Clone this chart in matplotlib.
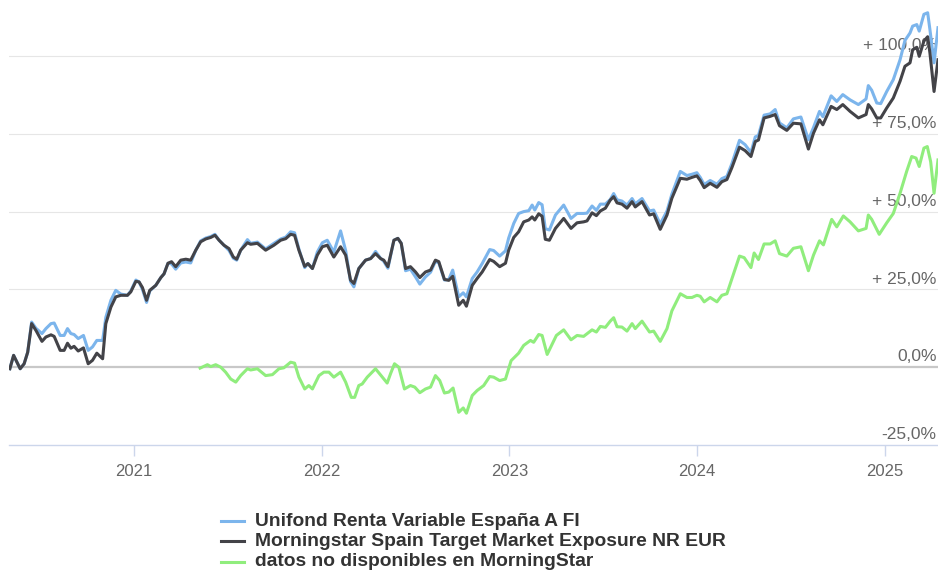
import matplotlib
matplotlib.use("Agg")
import matplotlib.pyplot as plt
from matplotlib.lines import Line2D

plt.rcParams['font.family'] = ['Liberation Sans', 'DejaVu Sans']

# fecha en años decimales, rentabilidad acumulada en %
fechas = [
    2020.340, 2020.360, 2020.395, 2020.416, 2020.435, 2020.456, 2020.479, 2020.511, 2020.532, 2020.559,
    2020.576, 2020.608, 2020.629, 2020.647, 2020.665, 2020.682, 2020.704, 2020.732, 2020.757, 2020.780,
    2020.803, 2020.834, 2020.851, 2020.878, 2020.904, 2020.931, 2020.966, 2020.984, 2021.011, 2021.028,
    2021.046, 2021.068, 2021.085, 2021.117, 2021.144, 2021.161, 2021.182, 2021.201, 2021.223, 2021.250,
    2021.277, 2021.303, 2021.330, 2021.356, 2021.383, 2021.410, 2021.432, 2021.454, 2021.480, 2021.507,
    2021.530, 2021.548, 2021.569, 2021.605, 2021.622, 2021.658, 2021.702, 2021.746, 2021.782, 2021.809,
    2021.835, 2021.856, 2021.879, 2021.910, 2021.927, 2021.951, 2021.977, 2022.004, 2022.030, 2022.065,
    2022.101, 2022.128, 2022.154, 2022.172, 2022.198, 2022.234, 2022.261, 2022.287, 2022.314, 2022.331,
    2022.353, 2022.385, 2022.406, 2022.424, 2022.447, 2022.473, 2022.500, 2022.523, 2022.553, 2022.580,
    2022.606, 2022.624, 2022.654, 2022.677, 2022.698, 2022.730, 2022.754, 2022.771, 2022.802, 2022.828,
    2022.855, 2022.895, 2022.916, 2022.948, 2022.979, 2022.996, 2023.023, 2023.049, 2023.076, 2023.103,
    2023.121, 2023.135, 2023.156, 2023.174, 2023.191, 2023.213, 2023.245, 2023.289, 2023.328, 2023.360,
    2023.395, 2023.413, 2023.440, 2023.463, 2023.484, 2023.511, 2023.537, 2023.555, 2023.573, 2023.599,
    2023.626, 2023.653, 2023.670, 2023.706, 2023.746, 2023.768, 2023.803, 2023.839, 2023.865, 2023.910,
    2023.945, 2023.972, 2023.998, 2024.016, 2024.037, 2024.069, 2024.105, 2024.131, 2024.158, 2024.185,
    2024.225, 2024.255, 2024.286, 2024.309, 2024.326, 2024.356, 2024.388, 2024.415, 2024.438, 2024.477,
    2024.512, 2024.552, 2024.592, 2024.619, 2024.651, 2024.669, 2024.713, 2024.743, 2024.775, 2024.814,
    2024.858, 2024.899, 2024.911, 2024.929, 2024.956, 2024.977, 2025.009, 2025.044, 2025.080, 2025.106,
    2025.133, 2025.147, 2025.169, 2025.182, 2025.207, 2025.227, 2025.239, 2025.261, 2025.282,
]

fondo = [
    -0.5, 3.8, -0.5, 1.1, 4.8, 14.5, 12.5, 10.8, 12.4, 14.0,
    14.2, 10.2, 10.2, 12.4, 10.8, 10.5, 9.2, 10.2, 5.4, 6.5,
    8.6, 8.6, 16.0, 21.5, 24.7, 23.5, 23.1, 24.5, 28.0, 27.4,
    25.0, 20.8, 24.5, 26.3, 28.8, 30.0, 33.4, 33.2, 31.5, 33.5,
    33.8, 33.5, 37.6, 40.6, 41.5, 42.0, 42.7, 40.8, 39.2, 37.5,
    35.0, 34.4, 37.6, 41.0, 39.8, 40.2, 38.0, 39.8, 41.2, 41.8,
    43.5, 43.2, 38.0, 32.0, 33.3, 31.7, 37.0, 40.0, 40.8, 37.0,
    43.8, 37.5, 27.5, 25.8, 31.7, 34.4, 34.9, 37.2, 35.0, 34.0,
    31.8, 40.8, 41.4, 39.8, 31.0, 31.5, 29.0, 26.7, 29.0, 30.5,
    34.0, 33.5, 28.0, 28.2, 31.2, 22.6, 23.9, 22.6, 28.5, 30.6,
    33.3, 37.8, 37.5, 35.7, 37.4, 41.5, 46.2, 49.4, 50.0, 50.3,
    52.1, 50.5, 52.9, 52.2, 44.5, 44.1, 48.9, 52.1, 47.8, 49.4,
    49.4, 49.5, 51.8, 50.4, 52.4, 52.4, 53.9, 55.8, 53.8, 53.4,
    52.1, 54.2, 52.5, 54.2, 50.2, 50.5, 46.0, 50.2, 55.6, 62.9,
    61.6, 62.0, 62.5, 61.0, 58.7, 60.0, 58.8, 60.6, 61.3, 65.5,
    72.9, 71.5, 69.0, 74.0, 74.5, 81.0, 81.4, 82.8, 78.5, 76.9,
    79.8, 80.4, 73.1, 77.0, 82.2, 80.5, 87.2, 85.4, 87.6, 85.9,
    84.4, 86.2, 90.5, 89.0, 84.9, 84.7, 88.6, 92.4, 98.8, 105.0,
    107.4, 109.6, 110.1, 108.0, 113.4, 113.9, 108.5, 97.8, 109.1,
]

indice = [
    -0.5, 3.8, -0.5, 1.1, 4.8, 14.0, 11.8, 8.3, 9.7, 10.4,
    9.9, 5.4, 5.4, 7.7, 6.1, 6.7, 5.2, 6.2, 1.1, 2.2,
    4.5, 2.7, 14.0, 19.3, 22.6, 23.1, 23.1, 24.2, 27.6, 27.4,
    25.6, 21.5, 24.7, 26.3, 28.8, 30.0, 33.4, 33.9, 32.3, 34.4,
    34.7, 34.4, 37.6, 40.3, 41.2, 41.7, 42.4, 40.8, 39.2, 38.1,
    35.4, 34.7, 37.6, 40.0, 39.5, 39.8, 37.6, 39.2, 40.8, 41.3,
    42.7, 42.4, 37.6, 32.4, 33.3, 31.7, 36.0, 38.7, 39.2, 35.4,
    38.7, 36.0, 28.0, 26.9, 31.7, 34.4, 34.9, 36.5, 34.9, 34.4,
    32.3, 40.8, 41.4, 39.8, 31.7, 32.3, 30.6, 28.8, 30.6, 31.2,
    34.4, 33.9, 28.2, 27.9, 29.2, 19.9, 21.5, 19.6, 26.3, 28.5,
    30.6, 34.6, 34.0, 32.3, 33.4, 37.6, 41.7, 43.5, 46.7, 47.3,
    48.3, 47.3, 49.3, 48.5, 41.1, 40.8, 44.6, 47.8, 44.6, 46.4,
    46.7, 47.0, 49.6, 48.7, 50.2, 51.1, 53.7, 54.8, 52.8, 52.4,
    51.1, 53.2, 51.5, 53.2, 48.9, 49.3, 44.3, 48.9, 54.3, 60.7,
    60.4, 61.0, 61.5, 60.0, 57.7, 59.1, 57.8, 59.6, 60.3, 64.2,
    70.7, 69.6, 67.7, 72.5, 73.0, 80.1, 80.6, 81.2, 77.6, 76.1,
    78.4, 78.2, 70.1, 75.2, 79.5, 77.9, 83.8, 82.8, 84.4, 82.2,
    80.1, 81.2, 84.4, 83.0, 80.1, 80.1, 83.3, 86.5, 91.9, 96.7,
    97.8, 102.0, 102.8, 99.9, 104.8, 106.2, 101.0, 88.6, 98.8,
]

fechas_ms = [
    2021.353, 2021.374, 2021.392, 2021.410, 2021.436, 2021.463, 2021.489, 2021.516, 2021.543, 2021.569,
    2021.605, 2021.622, 2021.658, 2021.702, 2021.738, 2021.773, 2021.799, 2021.835, 2021.856, 2021.879,
    2021.910, 2021.932, 2021.951, 2021.986, 2022.012, 2022.039, 2022.065, 2022.101, 2022.128, 2022.158,
    2022.176, 2022.198, 2022.216, 2022.243, 2022.287, 2022.323, 2022.349, 2022.367, 2022.388, 2022.411,
    2022.441, 2022.473, 2022.496, 2022.523, 2022.553, 2022.580, 2022.606, 2022.629, 2022.654, 2022.677,
    2022.700, 2022.730, 2022.754, 2022.771, 2022.802, 2022.828, 2022.863, 2022.895, 2022.916, 2022.948,
    2022.979, 2023.009, 2023.049, 2023.076, 2023.112, 2023.129, 2023.156, 2023.174, 2023.201, 2023.250,
    2023.289, 2023.328, 2023.360, 2023.395, 2023.440, 2023.463, 2023.484, 2023.511, 2023.537, 2023.555,
    2023.573, 2023.599, 2023.626, 2023.653, 2023.670, 2023.706, 2023.746, 2023.768, 2023.803, 2023.839,
    2023.865, 2023.910, 2023.945, 2023.972, 2023.998, 2024.016, 2024.037, 2024.069, 2024.105, 2024.131,
    2024.158, 2024.194, 2024.225, 2024.250, 2024.286, 2024.303, 2024.326, 2024.356, 2024.388, 2024.415,
    2024.438, 2024.477, 2024.512, 2024.552, 2024.592, 2024.619, 2024.651, 2024.672, 2024.716, 2024.743,
    2024.778, 2024.814, 2024.858, 2024.899, 2024.911, 2024.929, 2024.969, 2025.009, 2025.044, 2025.080,
    2025.115, 2025.142, 2025.165, 2025.182, 2025.207, 2025.225, 2025.243, 2025.261, 2025.282,
]

sin_datos = [
    -0.3, 0.3, 0.8, 0.2, 0.8, 0.0, -1.6, -3.8, -4.8, -2.7,
    -0.5, -0.9, -0.5, -2.7, -2.4, -0.5, -0.2, 1.6, 1.3, -3.2,
    -7.0, -5.9, -7.0, -2.7, -1.6, -1.6, -3.2, -1.6, -4.8, -9.7,
    -9.7, -5.9, -5.4, -3.2, -0.5, -3.2, -5.1, -2.1, 1.1, 0.0,
    -7.0, -5.9, -6.4, -8.2, -7.0, -6.4, -2.7, -4.3, -8.3, -8.0,
    -6.7, -14.5, -13.1, -14.8, -9.1, -7.5, -5.9, -3.0, -3.2, -4.3,
    -3.8, 2.1, 4.5, 7.0, 8.6, 8.0, 10.5, 10.2, 4.1, 10.2,
    12.0, 8.8, 10.2, 9.9, 12.0, 11.3, 13.1, 12.8, 14.8, 15.9,
    13.0, 12.9, 11.6, 14.0, 12.4, 14.8, 11.3, 11.6, 8.3, 12.4,
    18.1, 23.6, 22.4, 22.4, 23.1, 22.8, 21.0, 22.4, 21.0, 23.1,
    23.6, 30.1, 35.7, 35.2, 32.0, 36.7, 34.6, 39.6, 39.6, 40.6,
    36.5, 35.7, 38.2, 38.7, 31.0, 36.0, 40.6, 39.3, 47.5, 45.1,
    48.6, 46.7, 43.8, 44.6, 48.9, 47.5, 42.7, 46.4, 49.4, 55.9,
    62.9, 67.7, 67.2, 64.5, 70.4, 70.9, 66.0, 55.9, 66.6,
]

anios = [2021, 2022, 2023, 2024, 2025]
niveles = [-25, 0, 25, 50, 75, 100]
etiquetas_y = ['-25,0%', '0,0%', '+ 25,0%', '+ 50,0%', '+ 75,0%', '+ 100,0%']

series = [
    ('Unifond Renta Variable España A FI', '#7cb5ec'),
    ('Morningstar Spain Target Market Exposure NR EUR', '#434348'),
    ('datos no disponibles en MorningStar', '#90ed7d'),
]

fig = plt.figure(figsize=(9.38, 5.71), dpi=100)
ax = fig.add_axes([0.0095, 0.2207, 0.9905, 0.7793])

# rejilla horizontal
for nivel in niveles[2:]:
    ax.axhline(nivel, color='#e6e6e6', lw=0.8, zorder=1)
ax.axhline(0, color='#c8c8c8', lw=1.6, zorder=1)

# etiquetas del eje y dentro del gráfico, sobre cada línea
for nivel, txt in zip(niveles, etiquetas_y):
    ax.annotate(txt, xy=(1.0, nivel), xycoords=('axes fraction', 'data'),
                xytext=(-1, 2), textcoords='offset points',
                ha='right', va='bottom', fontsize=12.5, color='#666666', zorder=2)

ax.plot(fechas, fondo, color=series[0][1], lw=2.2, zorder=3, solid_joinstyle='round')
ax.plot(fechas, indice, color=series[1][1], lw=2.2, zorder=4, solid_joinstyle='round')
ax.plot(fechas_ms, sin_datos, color=series[2][1], lw=2.2, zorder=5, solid_joinstyle='round')

ax.set_xlim(2020.335, 2025.282)
ax.set_ylim(-25, 118)
ax.set_yticks([])
ax.set_xticks(anios)
ax.set_xticklabels([str(a) for a in anios])
ax.tick_params(axis='x', length=8, width=1, color='#ccd6eb', labelsize=12,
               labelcolor='#666666', pad=6)
for lado in ['top', 'right', 'left']:
    ax.spines[lado].set_visible(False)
ax.spines['bottom'].set_color('#ccd6eb')
ax.spines['bottom'].set_linewidth(1)
ax.patch.set_alpha(0)

# leyenda
for i, (nombre, color) in enumerate(series):
    y = 1 - (521 + 20.3 * i) / 571
    fig.add_artist(Line2D([221 / 938, 244 / 938], [y, y], color=color, lw=2.2))
    fig.text(255 / 938, y, nombre, fontsize=13.85, fontweight='bold', color='#333333',
             ha='left', va='center')

fig.savefig('out.png', dpi=100)
